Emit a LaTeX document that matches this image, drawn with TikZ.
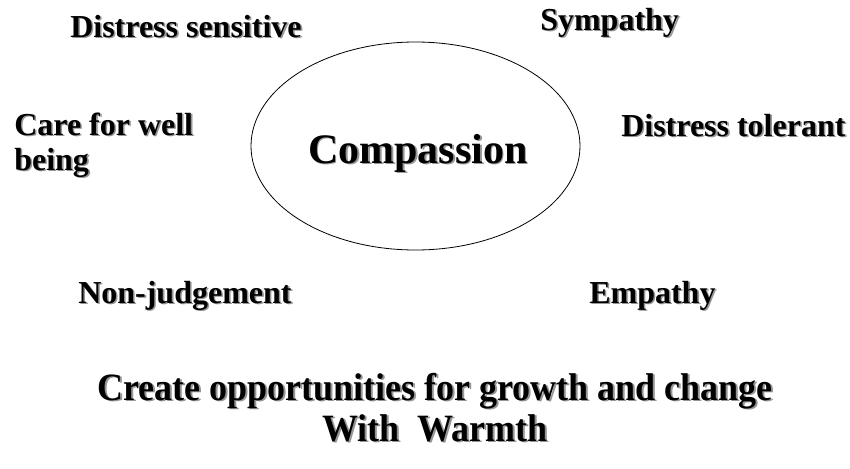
\documentclass[tikz,border=0pt]{standalone}
\usepackage{fontspec}
\setmainfont{Liberation Serif}
\newfontfamily\narrowserif[FakeStretch=0.93]{Liberation Serif}
\begin{document}
\begin{tikzpicture}[x=0.75pt,y=-0.75pt]
  \definecolor{shadowgray}{RGB}{150,150,150}
  \tikzset{
    lbl/.style={inner sep=0pt, font=\bfseries\fontsize{24}{26.25}\selectfont, align=left},
    biglbl/.style={inner sep=0pt, font=\narrowserif\bfseries\fontsize{29}{32}\selectfont, align=center},
    hublbl/.style={inner sep=0pt, font=\bfseries\fontsize{31.5}{34}\selectfont}
  }
  % label with a soft gray drop shadow behind it
  \newcommand\shadowlabel[5]{%
    \node[#1, anchor=#4, text=shadowgray, xshift=1.2pt, yshift=-1.2pt] at (#3) {#5};
    \node[#1, anchor=#4] (#2) at (#3) {#5};
  }
  \useasboundingbox (0,0) rectangle (850,468);
  \fill[white] (0,0) rectangle (850,468);

  % central ellipse
  \draw[line width=0.6pt] (415.5,146) ellipse [x radius=164.5, y radius=104];

  \shadowlabel{hublbl}{compassion}{418,163}{base}{Compassion}
  \shadowlabel{lbl}{sensitive}{70,37}{base west}{Distress sensitive}
  \shadowlabel{lbl}{sympathy}{540,30}{base west}{Sympathy}
  \shadowlabel{lbl}{tolerant}{621,136}{base west}{Distress tolerant}
  \shadowlabel{lbl}{care}{14,170}{base west}{Care for well\\being}
  \shadowlabel{lbl}{nonjudge}{78,303}{base west}{Non-judgement}
  \shadowlabel{lbl}{empathy}{589,303}{base west}{Empathy}
  \shadowlabel{biglbl}{growth}{435,400}{base}{Create opportunities for growth and change}
  \shadowlabel{biglbl}{warmth}{435,441}{base}{With\ \ Warmth}
\end{tikzpicture}
\end{document}
